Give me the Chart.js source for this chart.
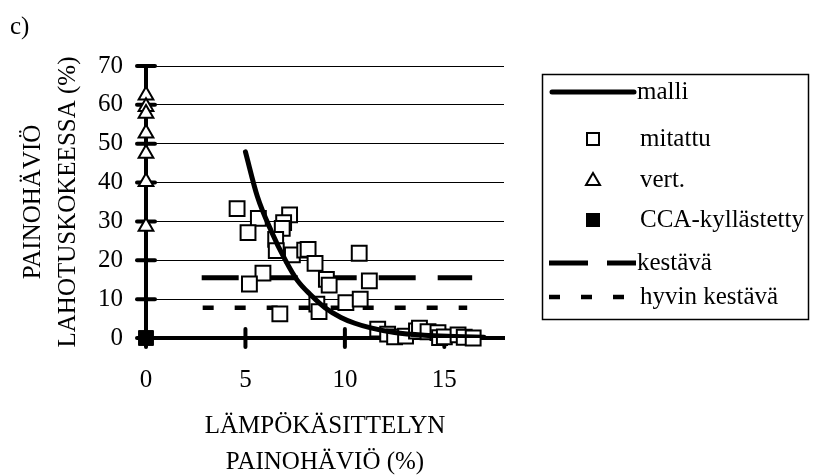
<!DOCTYPE html>
<html>
<head>
<meta charset="utf-8">
<style>
  html, body { margin: 0; padding: 0; background: #fff; }
  #wrap { position: relative; width: 818px; height: 475px; }
</style>
</head>
<body>
<div id="wrap"><canvas id="chart" width="818" height="475"></canvas></div>
<script src="https://cdn.jsdelivr.net/npm/chart.js@4.4.1/dist/chart.umd.min.js"></script>
<script>
// series labels (legend order)
var seriesLabels = ['malli', 'mitattu', 'vert.', 'CCA-kyllästetty', 'kestävä', 'hyvin kestävä'];

// model curve
var malliX = [5.0, 5.6, 6.3, 7.0, 7.6, 8.3, 9.0, 9.8, 10.5, 11.3, 12.5, 14.0, 15.5, 17.0];
var malliY = [47.9, 36.4, 27.5, 20.1, 14.9, 11.0, 7.8, 5.3, 3.8, 2.6, 1.4, 0.7, 0.4, 0.2];

// measured (squares)
var mitattuX = [4.58, 5.65, 5.13, 7.22, 6.92, 6.85, 6.52, 6.55, 7.36, 7.98, 8.15, 8.5, 9.07, 9.21,
                5.88, 5.2, 6.73, 8.59, 8.7, 10.72, 11.23, 10.05, 10.77,
                11.65, 12.15, 12.5, 13.05, 13.6, 13.75, 14.18, 14.68, 14.76, 15.0, 15.69, 16.0, 16.45];
var mitattuY = [33.3, 30.8, 27.1, 31.7, 29.7, 28.2, 25.4, 22.5, 21.4, 22.6, 22.8, 19.2, 15.1, 13.6,
                16.7, 13.9, 6.2, 8.7, 6.8, 21.8, 14.7, 9.1, 10.0,
                2.3, 1.0, 0.3, 0.5, 1.8, 2.5, 1.6, 1.4, 0.1, 0.3, 0.8, 0.2, 0.0];

// untreated reference (triangles) at x = 0
var vertX = [0, 0, 0, 0, 0, 0, 0];
var vertY = [62.5, 59.5, 57.8, 52.7, 47.5, 40.2, 28.7];

// CCA treated
var ccaX = [0];
var ccaY = [0];

// durability class limits
var kestavaX = [2.8, 16.4];
var kestavaY = [15.5, 15.5];
var hyvinX = [2.85, 16.15];
var hyvinY = [7.8, 7.8];

// axis ticks
var xTickValues = [0, 5, 10, 15];
var yTickValues = [0, 10, 20, 30, 40, 50, 60, 70];

function pts(xs, ys) {
  return xs.map(function (x, i) { return {x: x, y: ys[i]}; });
}

var FONT = "'Liberation Serif', 'Times New Roman', serif";
Chart.defaults.font.family = FONT;
Chart.defaults.color = '#000';

// cross-shaped tick marks on both axes
var crossTicks = {
  id: 'crossTicks',
  beforeDatasetsDraw: function (chart) {
    var ctx = chart.ctx, xs = chart.scales.x, ys = chart.scales.y;
    var x0 = xs.getPixelForValue(0), y0 = ys.getPixelForValue(0);
    ctx.save();
    ctx.strokeStyle = '#000';
    ctx.lineWidth = 4;
    ctx.lineCap = 'round';
    yTickValues.forEach(function (v) {
      var p = ys.getPixelForValue(v);
      ctx.beginPath(); ctx.moveTo(x0 - 9, p); ctx.lineTo(x0 + 9, p); ctx.stroke();
    });
    xTickValues.forEach(function (v) {
      var p = xs.getPixelForValue(v);
      ctx.beginPath(); ctx.moveTo(p, y0 - 9); ctx.lineTo(p, y0 + 9); ctx.stroke();
    });
    ctx.restore();
  }
};

// boxed legend on the right and the panel letter
var sideLegend = {
  id: 'sideLegend',
  afterDraw: function (chart) {
    var ctx = chart.ctx;
    var ds = chart.data.datasets;
    ctx.save();
    ctx.strokeStyle = '#000';
    ctx.lineWidth = 1.5;
    ctx.strokeRect(542.5, 74.5, 266, 245);

    var rows = [92, 139, 180, 220, 263, 297];
    var mx = 593;
    // malli
    ctx.lineWidth = 5; ctx.lineCap = 'round';
    ctx.beginPath(); ctx.moveTo(552, rows[0]); ctx.lineTo(634, rows[0]); ctx.stroke();
    // mitattu
    ctx.lineCap = 'butt'; ctx.lineWidth = 2;
    ctx.fillStyle = '#fff';
    ctx.fillRect(mx - 6, rows[1] - 6, 12, 12); ctx.strokeRect(mx - 6, rows[1] - 6, 12, 12);
    // vert.
    ctx.beginPath(); ctx.moveTo(mx, rows[2] - 7); ctx.lineTo(mx + 7, rows[2] + 5); ctx.lineTo(mx - 7, rows[2] + 5); ctx.closePath();
    ctx.fill(); ctx.stroke();
    // CCA
    ctx.fillStyle = '#000';
    ctx.fillRect(mx - 7, rows[3] - 7, 14, 14);
    // kestävä
    ctx.lineWidth = 5; ctx.setLineDash([39, 19]);
    ctx.beginPath(); ctx.moveTo(549, rows[4]); ctx.lineTo(636, rows[4]); ctx.stroke();
    // hyvin kestävä
    ctx.lineWidth = 4.5; ctx.setLineDash([11, 21]);
    ctx.beginPath(); ctx.moveTo(549, rows[5]); ctx.lineTo(626, rows[5]); ctx.stroke();
    ctx.setLineDash([]);

    ctx.fillStyle = '#000';
    ctx.font = '25px ' + FONT;
    ctx.textBaseline = 'middle';
    ctx.textAlign = 'left';
    var tx = [637, 640, 640, 640, 637, 640];
    for (var i = 0; i < ds.length; i++) {
      ctx.fillText(ds[i].label, tx[i], rows[i]);
    }
    ctx.textBaseline = 'alphabetic';
    ctx.fillText('c)', 10, 34);
    ctx.restore();
  }
};

var chart = new Chart(document.getElementById('chart'), {
  type: 'scatter',
  data: {
    datasets: [
      {label: seriesLabels[0], data: pts(malliX, malliY), showLine: true, borderColor: '#000', borderWidth: 5,
       pointRadius: 0, cubicInterpolationMode: 'monotone', borderCapStyle: 'round', fill: false},
      {label: seriesLabels[1], data: pts(mitattuX, mitattuY), pointStyle: 'rect', pointRadius: 10.5,
       backgroundColor: '#fff', borderColor: '#000', borderWidth: 2, clip: false},
      {label: seriesLabels[2], data: pts(vertX, vertY), pointStyle: 'triangle', pointRadius: 8.5,
       backgroundColor: '#fff', borderColor: '#000', borderWidth: 2, clip: false},
      {label: seriesLabels[3], data: pts(ccaX, ccaY), pointStyle: 'rect', pointRadius: 10.5,
       backgroundColor: '#000', borderColor: '#000', borderWidth: 1, clip: false},
      {label: seriesLabels[4], data: pts(kestavaX, kestavaY), showLine: true, borderColor: '#000', borderWidth: 5,
       borderDash: [37, 22], pointRadius: 0, fill: false},
      {label: seriesLabels[5], data: pts(hyvinX, hyvinY), showLine: true, borderColor: '#000', borderWidth: 4.5,
       borderDash: [11, 21], pointRadius: 0, fill: false}
    ]
  },
  options: {
    responsive: false,
    animation: false,
    events: [],
    layout: {padding: {left: 0, top: 66, right: 314, bottom: 0}},
    plugins: {legend: {display: false}, tooltip: {enabled: false}, title: {display: false}},
    scales: {
      x: {
        type: 'linear', min: 0, max: 18,
        afterFit: function (s) { s.height = 137; },
        ticks: {stepSize: 5, includeBounds: false, padding: 27, color: '#000', font: {size: 25}, maxRotation: 0},
        grid: {display: false, drawTicks: false},
        border: {display: true, width: 4, color: '#000'},
        title: {display: true, text: ['LÄMPÖKÄSITTELYN', 'PAINOHÄVIÖ (%)'], color: '#000',
                font: {size: 25, lineHeight: 1.44}, padding: {top: 0, bottom: -5}}
      },
      y: {
        type: 'linear', min: 0, max: 70,
        afterFit: function (s) { s.width = 146; },
        ticks: {stepSize: 10, padding: 23, color: '#000', font: {size: 25}},
        grid: {color: '#000', lineWidth: 1, drawTicks: false},
        border: {display: true, width: 4, color: '#000'},
        title: {display: true, text: ['PAINOHÄVIÖ', 'LAHOTUSKOKEESSA (%)'], color: '#000',
                font: {size: 25, lineHeight: 1.4}, padding: {top: 15.5, bottom: 0}}
      }
    }
  },
  plugins: [crossTicks, sideLegend]
});
</script>
</body>
</html>
